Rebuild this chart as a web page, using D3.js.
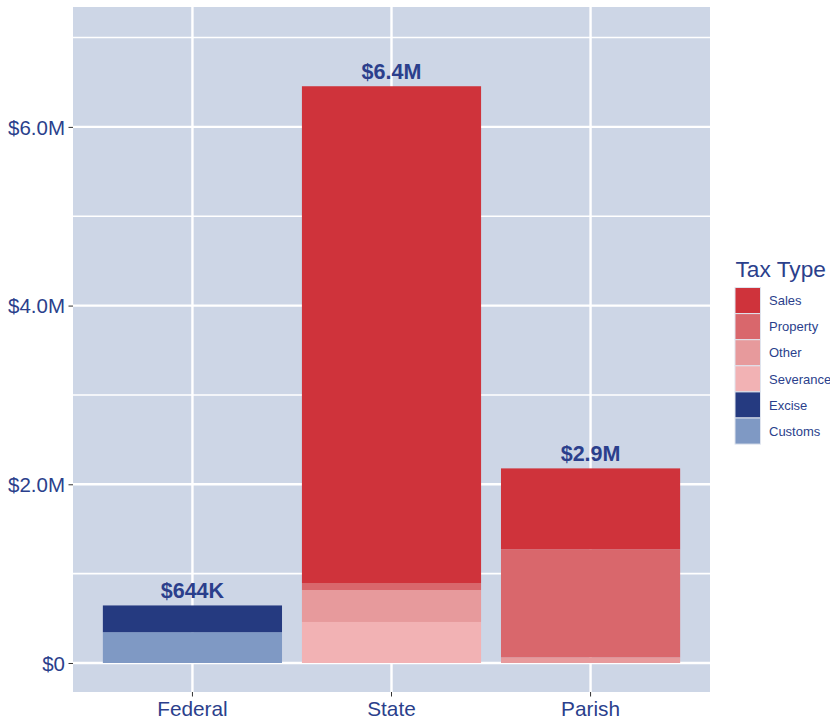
<!DOCTYPE html>
<html>
<head>
<meta charset="utf-8">
<script src="https://cdn.jsdelivr.net/npm/d3@7"></script>
<style>
  html, body { margin: 0; padding: 0; background: #ffffff; }
  svg { display: block; font-family: "Liberation Sans", Arial, sans-serif; }
</style>
</head>
<body>
<svg id="chart" width="830" height="722"></svg>
<script>
// Revenue by level of government, stacked by tax type (millions of dollars)
const levels = ["Federal", "State", "Parish"];
const taxTypes = ["Sales", "Property", "Other", "Severance", "Excise", "Customs"];
const typeColors = ["#cf333b", "#d9676c", "#e79a9c", "#f2b2b4", "#253a80", "#7f99c4"];

// stacking order from the baseline upward
const stackOrder = ["Customs", "Excise", "Severance", "Other", "Property", "Sales"];

const sales     = [0,     5.56,  0.905];
const property  = [0,     0.078, 1.21];
const other     = [0,     0.358, 0.063];
const severance = [0,     0.459, 0];
const excise    = [0.299, 0,     0];
const customs   = [0.345, 0,     0];

const totalLabels = ["$644K", "$6.4M", "$2.9M"];

const yTicks = [0, 2, 4, 6];
const yMinor = [1, 3, 5, 7];
const yTickLabels = ["$0", "$2.0M", "$4.0M", "$6.0M"];

const seriesByType = {
  Sales: sales, Property: property, Other: other,
  Severance: severance, Excise: excise, Customs: customs
};

const rows = levels.map((lv, i) => {
  const r = { level: lv };
  taxTypes.forEach(t => { r[t] = seriesByType[t][i]; });
  return r;
});

const textColor = "#2b3f8c";
const panel = { left: 73, right: 710, top: 7, bottom: 692 };

const svg = d3.select("#chart");

const x = d3.scaleBand()
  .domain(levels)
  .range([panel.left, panel.right])
  .paddingInner(0.1)
  .paddingOuter(0.15);

const y = d3.scaleLinear()
  .domain([-0.3246, 7.3418])
  .range([panel.bottom, panel.top]);

const color = d3.scaleOrdinal().domain(taxTypes).range(typeColors);

// panel background
svg.append("rect")
  .attr("x", panel.left).attr("y", panel.top)
  .attr("width", panel.right - panel.left)
  .attr("height", panel.bottom - panel.top)
  .attr("fill", "#cdd6e6");

const grid = svg.append("g");
grid.selectAll(".minor").data(yMinor).join("line")
  .attr("x1", panel.left).attr("x2", panel.right)
  .attr("y1", d => y(d)).attr("y2", d => y(d))
  .attr("stroke", "#fff").attr("stroke-width", 1.6);
grid.selectAll(".major").data(yTicks).join("line")
  .attr("x1", panel.left).attr("x2", panel.right)
  .attr("y1", d => y(d)).attr("y2", d => y(d))
  .attr("stroke", "#fff").attr("stroke-width", 2.4);
grid.selectAll(".vmajor").data(levels).join("line")
  .attr("x1", d => x(d) + x.bandwidth() / 2).attr("x2", d => x(d) + x.bandwidth() / 2)
  .attr("y1", panel.top).attr("y2", panel.bottom)
  .attr("stroke", "#fff").attr("stroke-width", 2.4);

// stacked bars
const stacked = d3.stack().keys(stackOrder)(rows);
svg.append("g").selectAll("g").data(stacked).join("g")
  .attr("fill", d => color(d.key))
  .selectAll("rect").data(d => d.filter(s => s[1] - s[0] > 0)).join("rect")
  .attr("x", d => x(d.data.level))
  .attr("width", x.bandwidth())
  .attr("y", d => y(d[1]))
  .attr("height", d => y(d[0]) - y(d[1]));

// total labels above each bar
const totals = rows.map(r => d3.sum(taxTypes, t => r[t]));
svg.append("g").selectAll("text").data(levels).join("text")
  .attr("x", d => x(d) + x.bandwidth() / 2)
  .attr("y", (d, i) => y(totals[i]) - 7)
  .attr("text-anchor", "middle")
  .attr("font-size", 21.5)
  .attr("font-weight", "bold")
  .attr("fill", textColor)
  .text((d, i) => totalLabels[i]);

// y axis
const yAxis = svg.append("g")
  .attr("transform", `translate(${panel.left},0)`)
  .call(d3.axisLeft(y).tickValues(yTicks).tickSize(4.5).tickPadding(3.5)
    .tickFormat((d, i) => yTickLabels[i]));
yAxis.select(".domain").remove();
yAxis.selectAll("line").attr("stroke", "#333").attr("stroke-width", 1);
yAxis.selectAll("text")
  .attr("font-size", 20.5)
  .attr("fill", textColor)
  .attr("font-family", "Liberation Sans, Arial, sans-serif")
  .attr("dy", "0.36em");

// x axis
const xAxis = svg.append("g")
  .attr("transform", `translate(0,${panel.bottom})`)
  .call(d3.axisBottom(x).tickSize(4.5).tickPadding(5));
xAxis.select(".domain").remove();
xAxis.selectAll("line").attr("stroke", "#333").attr("stroke-width", 1);
xAxis.selectAll("text")
  .attr("font-size", 20.8)
  .attr("fill", textColor)
  .attr("font-family", "Liberation Sans, Arial, sans-serif");

// legend
const legend = svg.append("g").attr("transform", "translate(735,0)");
legend.append("text")
  .attr("x", 0.5).attr("y", 276.5)
  .attr("font-size", 22.7)
  .attr("fill", textColor)
  .attr("xml:space", "preserve")
  .text("Tax Type");
const keyH = 26.1;
const items = legend.selectAll(".item").data(taxTypes).join("g")
  .attr("transform", (d, i) => `translate(0,${287.5 + i * keyH})`);
items.append("rect")
  .attr("width", 25.5).attr("height", keyH)
  .attr("fill", d => color(d))
  .attr("stroke", "#dfe4ee").attr("stroke-width", 1);
items.append("text")
  .attr("x", 34).attr("y", keyH / 2)
  .attr("dy", "0.36em")
  .attr("font-size", 13)
  .attr("fill", textColor)
  .text(d => d);
</script>
</body>
</html>
